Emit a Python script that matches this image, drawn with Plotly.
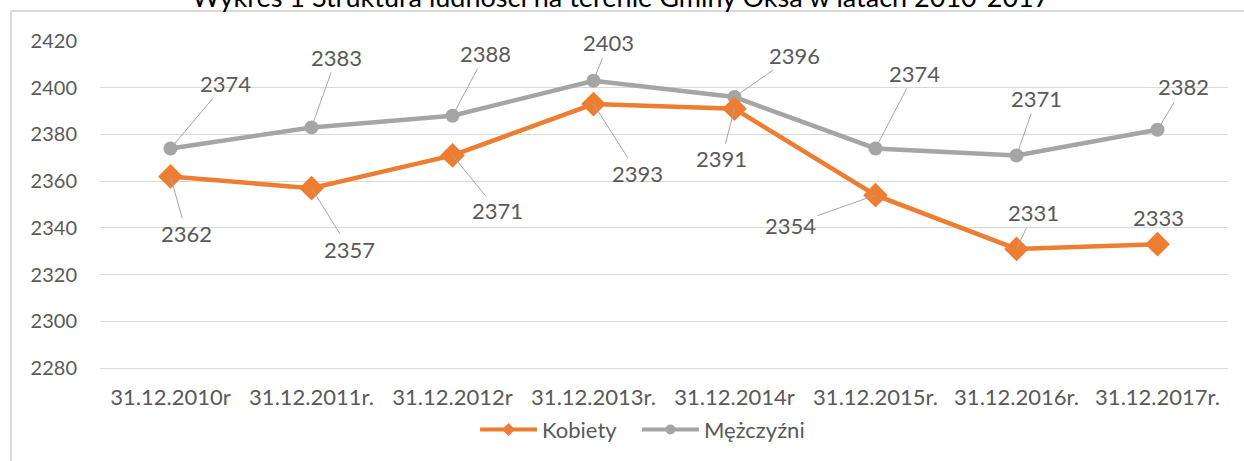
import plotly.graph_objects as go

categories = ["31.12.2010r", "31.12.2011r.", "31.12.2012r", "31.12.2013r.",
              "31.12.2014r", "31.12.2015r.", "31.12.2016r.", "31.12.2017r."]
kobiety = [2362, 2357, 2371, 2393, 2391, 2354, 2331, 2333]
mezczyzni = [2374, 2383, 2388, 2403, 2396, 2374, 2371, 2382]
y_ticks = [2280, 2300, 2320, 2340, 2360, 2380, 2400, 2420]
title_text = "Wykres 1 Struktura ludności na terenie Gminy Oksa w latach 2010-2017"

# label offsets (pixels) for data labels
off_k = [(16, 57), (38, 61), (45, 55), (44, 69), (-13, 50), (-85, 30), (17, -36), (1, -27)]
off_m = [(55, -65), (25, -70), (33, -62), (15, -38), (60, -42), (39, -75), (20, -57), (26, -43)]

ORANGE = "#ED7D31"
GRAY = "#A5A5A5"
TXT = "#595959"
FONT = "Lato"

fig = go.Figure()
fig.add_trace(go.Scatter(x=categories, y=mezczyzni, mode="lines+markers", name="Mężczyźni",
                         line=dict(color=GRAY, width=4.5), marker=dict(symbol="circle", size=14, color=GRAY),
                         showlegend=False))
fig.add_trace(go.Scatter(x=categories, y=kobiety, mode="lines+markers", name="Kobiety",
                         line=dict(color=ORANGE, width=4.5), marker=dict(symbol="diamond", size=19, color=ORANGE),
                         showlegend=False))
# legend entries
fig.add_trace(go.Scatter(x=[None], y=[None], mode="lines+markers", name="Kobiety", legend="legend",
                         line=dict(color=ORANGE, width=4), marker=dict(symbol="diamond", size=10, color=ORANGE)))
fig.add_trace(go.Scatter(x=[None], y=[None], mode="lines+markers", name="Mężczyźni", legend="legend2",
                         line=dict(color=GRAY, width=4), marker=dict(symbol="circle", size=10, color=GRAY)))

annotations = []
for series, offs in ((kobiety, off_k), (mezczyzni, off_m)):
    for c, v, (dx, dy) in zip(categories, series, offs):
        show = (dx * dx + dy * dy) > 35 * 35
        annotations.append(dict(x=c, y=v, xref="x", yref="y", text=str(v),
                                showarrow=True, arrowhead=0, arrowwidth=1,
                                arrowcolor="#A6A6A6" if show else "rgba(0,0,0,0)",
                                ax=dx, ay=dy, standoff=0,
                                font=dict(family=FONT, size=22, color=TXT)))
annotations.append(dict(x=0.461, y=1, xref="paper", yref="paper", text=title_text, showarrow=False,
                        xanchor="center", yanchor="middle", yshift=45,
                        font=dict(family=FONT, size=27, color="#000000")))

legend_common = dict(orientation="h", y=-0.185, yanchor="middle", xanchor="left",
                     bgcolor="rgba(0,0,0,0)", font=dict(family=FONT, size=22, color=TXT), itemwidth=57)

fig.update_layout(
    width=1244, height=461,
    margin=dict(l=100, r=16, t=41, b=92),
    paper_bgcolor="white", plot_bgcolor="white",
    font=dict(family=FONT, size=20, color=TXT),
    showlegend=True,
    legend=dict(x=0.3325, **legend_common),
    legend2=dict(x=0.4760, **legend_common),
    annotations=annotations,
    shapes=[
        dict(type="line", xref="paper", yref="paper", x0=-0.0789, x1=1.02, y0=1.0915, y1=1.0915,
             line=dict(color="#D9D9D9", width=2)),
        dict(type="line", xref="paper", yref="paper", x0=-0.0789, x1=-0.0789, y0=1.0915, y1=-0.3,
             line=dict(color="#D9D9D9", width=2)),
    ],
)
fig.update_xaxes(type="category", showgrid=False, showline=True, linecolor="#D9D9D9", linewidth=1,
                 ticks="outside", ticklen=10, tickcolor="rgba(0,0,0,0)",
                 tickfont=dict(family=FONT, size=22, color=TXT), range=[-0.5, 7.5])
fig.update_yaxes(range=[2280, 2420], tickvals=y_ticks, showgrid=True, gridcolor="#D9D9D9", gridwidth=1,
                 zeroline=False, showline=False, ticks="outside", ticklen=18, tickcolor="rgba(0,0,0,0)",
                 tickfont=dict(family=FONT, size=20, color=TXT))

fig.write_html("out.html", config={"displayModeBar": False},
               post_script="document.body.style.margin='0px';document.body.style.overflow='hidden';")
